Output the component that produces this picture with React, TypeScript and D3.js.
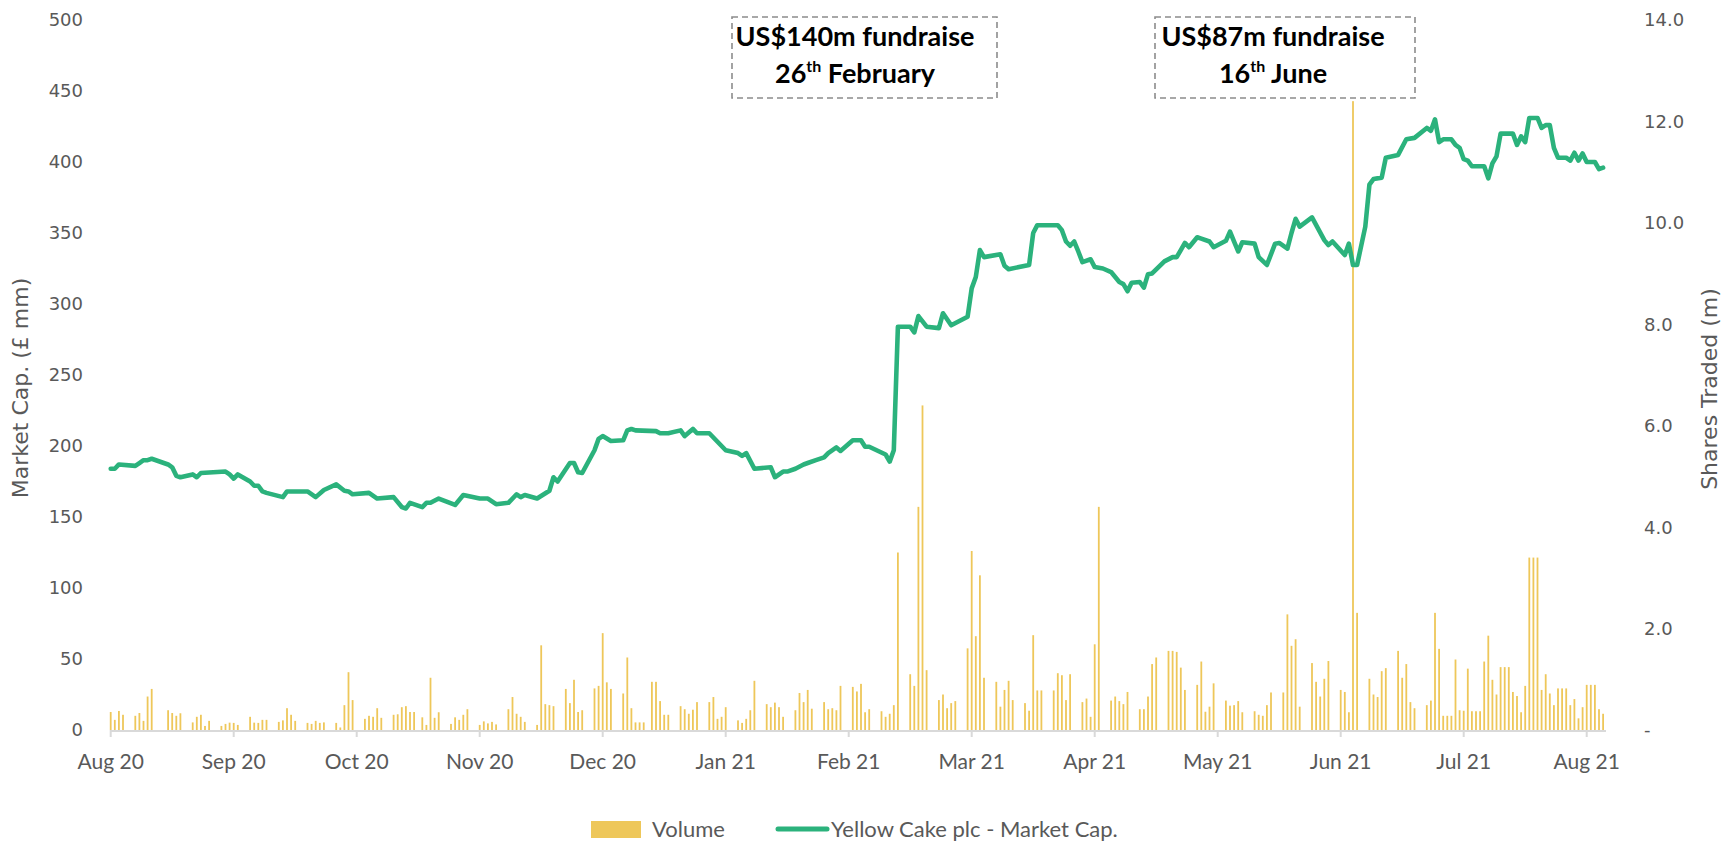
import React from "react";
import * as d3 from "d3";

// Market cap (£ mm) line vertices: day offset from 18 Aug 2020 and value
const capStart = "2020-08-18";
const capDays = [0,1,2,6,7,8,9,10,14,15,16,17,20,21,22,28,29,30,31,34,35,36,37,38,42,43,48,50,52,55,57,58,59,63,65,69,71,72,73,76,77,78,80,84,86,90,92,94,97,99,100,101,104,107,108,109,112,113,114,115,118,119,120,122,125,126,127,128,133,134,136,139,140,142,143,146,148,150,153,154,155,157,161,162,164,165,167,169,170,172,174,175,177,178,181,183,184,185,189,190,191,192,195,196,197,199,202,203,205,209,210,211,212,213,217,218,219,224,225,226,231,232,233,234,235,236,237,239,240,242,244,246,247,248,249,251,252,253,254,257,259,260,261,262,263,265,266,268,269,272,273,274,275,276,279,280,282,284,285,287,288,289,290,293,296,297,298,301,302,303,304,306,307,308,310,311,314,316,318,321,322,323,324,325,326,327,328,329,330,331,332,333,334,335,336,337,338,339,340,341,342,343,344,345,346,347,348,349,350,351,352,353,354,355,356,357,358,359,360,361,362,363,364];
const capValues = [184,184,187,186,188,190,190,191,187,185,179,178,180,178,181,182,180,177,180,175,172,172,168,167,164,168,168,164,169,173,168.5,168,166,167,163,164,157,156,160,157,160,160,163,158.5,165.5,163,163,159,160,166,164,165.5,163,168.5,178,175,188,188,181.5,181,197,205,207,203.5,204,211,212,211,210.5,209,209,211,207,212,209,209,203,197,195,193,195,184,185,178,182,182,184,187,188,190,192,195,199,196.5,204,204,199.5,199.5,194,189,197,284,284,280,291.5,284,283,293.5,285,291,311,319,338,333,335,327,324.5,327.5,350,355.5,355.5,352,344,341,344,337,329.5,331.5,326,325,322.5,315.5,314,309,315,315.5,311.5,321,321.5,330,333,333,338,343,340,347,346,344,340,344.5,351,344,337,343.5,342.5,333,327.5,342.5,343,339,350,360,354.5,361,345,341.5,344,334.5,342.5,327.5,327.5,354.5,384,388,389,403,405,416,417,424,422,430,414,416,416,416,412,410,402,401,397,397,397,397,388.5,399,404,420,420,420,420,412,418,414,431,431,431,424,426,426,410,403,403,403,401,406.5,401,406,400,400,400,395,396];

// Shares traded (m), one row per week, Monday..Sunday, weeks from 17 Aug 2020
const volumeWeekStart = "2020-08-17";
const volumeWeeks: (number | null)[][] = [
  [null, 0.355, 0.2, 0.375, 0.3, null, null],
  [0.28, 0.335, 0.18, 0.66, 0.81, null, null],
  [null, 0.39, 0.335, 0.28, 0.33, null, null],
  [0.15, 0.26, 0.3, 0.08, 0.18, null, null],
  [0.08, 0.12, 0.145, 0.14, 0.1, null, null],
  [0.26, 0.145, 0.14, 0.2, 0.2, null, null],
  [0.16, 0.19, 0.43, 0.3, 0.18, null, null],
  [0.14, 0.12, 0.18, 0.14, 0.15, null, null],
  [0.14, 0.05, 0.49, 1.14, 0.59, null, null],
  [0.22, 0.28, 0.26, 0.43, 0.24, null, null],
  [0.3, 0.31, 0.45, 0.47, 0.355, 0.355, null],
  [0.25, 0.1, 1.03, 0.24, 0.35, null, null],
  [0.12, 0.25, 0.2, 0.3, 0.41, null, null],
  [0.1, 0.17, 0.13, 0.16, 0.11, null, null],
  [0.41, 0.65, 0.32, 0.26, 0.16, null, null],
  [0.1, 1.67, 0.51, 0.49, 0.47, null, null],
  [0.81, 0.53, 0.99, 0.355, 0.39, null, null],
  [0.82, 0.87, 1.91, 0.94, 0.81, null, null],
  [0.72, 1.43, 0.43, 0.15, 0.15, 0.15, null],
  [0.95, 0.95, 0.57, 0.3, 0.3, null, null],
  [0.47, 0.41, 0.32, 0.4, 0.55, null, null],
  [0.55, 0.65, 0.22, 0.26, 0.45, null, null],
  [0.19, 0.14, 0.22, 0.39, 0.97, null, null],
  [0.51, 0.45, 0.54, 0.45, 0.26, null, null],
  [0.39, 0.73, 0.55, 0.79, 0.42, null, null],
  [0.55, 0.41, 0.43, 0.39, 0.87, null, null],
  [0.85, 0.76, 0.91, 0.35, 0.41, null, null],
  [0.37, 0.26, 0.32, 0.49, 3.5, null, null],
  [1.1, 0.87, 4.4, 6.4, 1.18, null, null],
  [0.59, 0.7, 0.43, 0.53, 0.57, null, null],
  [1.61, 3.53, 1.85, 3.05, 1.03, null, null],
  [0.95, 0.46, 0.79, 0.97, 0.59, null, null],
  [0.53, 0.38, 1.87, 0.78, 0.78, null, null],
  [0.78, 1.12, 1.08, 0.59, 1.1, null, null],
  [0.55, 0.62, 0.26, 1.69, 4.4, null, null],
  [0.58, 0.66, 0.57, 0.51, 0.75, null, null],
  [0.41, 0.41, 0.66, 1.3, 1.43, null, null],
  [1.56, 1.56, 1.54, 1.23, 0.79, null, null],
  [0.89, 1.35, 0.36, 0.46, 0.92, null, null],
  [0.58, 0.48, 0.49, 0.57, 0.35, null, null],
  [0.37, 0.3, 0.28, 0.49, 0.74, null, null],
  [0.74, 2.28, 1.66, 1.79, 0.46, null, null],
  [1.32, 0.95, 0.66, 1.01, 1.36, null, null],
  [0.79, 0.75, 0.35, 12.4, 2.31, null, null],
  [1.01, 0.7, 0.65, 1.16, 1.22, null, null],
  [1.56, 1.03, 1.3, 0.55, 0.43, null, null],
  [0.49, 0.58, 2.31, 1.6, 0.28, 0.28, 0.28],
  [1.39, 0.39, 0.38, 1.21, 0.37, 0.37, 0.37],
  [1.35, 1.86, 0.99, 0.7, 1.24, 1.24, 1.24],
  [0.75, 0.67, 0.35, 0.87, 3.4, 3.4, 3.4],
  [0.79, 1.1, 0.72, 0.49, 0.82, 0.82, 0.82],
  [0.49, 0.61, 0.23, 0.45, 0.89, 0.89, 0.89],
  [0.41, 0.32],
];

const xTickDates = ["2020-08-18","2020-09-17","2020-10-17","2020-11-16","2020-12-16","2021-01-15","2021-02-14","2021-03-16","2021-04-15","2021-05-15","2021-06-14","2021-07-14","2021-08-13"];
const xTickLabels = ["Aug 20","Sep 20","Oct 20","Nov 20","Dec 20","Jan 21","Feb 21","Mar 21","Apr 21","May 21","Jun 21","Jul 21","Aug 21"];
const leftTicks = [0, 50, 100, 150, 200, 250, 300, 350, 400, 450, 500];
const rightTicks = [0, 2, 4, 6, 8, 10, 12, 14];
const rightTickLabels = ["-", "2.0", "4.0", "6.0", "8.0", "10.0", "12.0", "14.0"];

const annotations = [
  { line1: "US$140m fundraise", day: "26", sup: "th", month: " February" },
  { line1: "US$87m fundraise", day: "16", sup: "th", month: " June" },
];

const LINE_COLOR = "#2bb27c";
const BAR_COLOR = "#eec75a";
const TEXT_COLOR = "#595959";

export default function App() {
  const W = 1732, H = 842;
  const parse = d3.utcParse("%Y-%m-%d");
  const start = parse(capStart) as Date;
  const x = d3.scaleUtc()
    .domain([start, d3.utcDay.offset(start, 364)])
    .range([110.7, 1603.1]);
  const yL = d3.scaleLinear().domain([0, 500]).range([730, 20]);
  const yR = d3.scaleLinear().domain([0, 14]).range([730, 20]);

  const capPts = capDays.map((d, i) => ({ date: d3.utcDay.offset(start, d), v: capValues[i] }));
  const line = d3.line<{ date: Date; v: number }>()
    .x((d) => x(d.date))
    .y((d) => yL(d.v));

  const weekStart = parse(volumeWeekStart) as Date;
  const bars: { date: Date; v: number }[] = [];
  volumeWeeks.forEach((wk, r) =>
    wk.forEach((v, c) => {
      if (v != null) bars.push({ date: d3.utcDay.offset(weekStart, r * 7 + c), v });
    })
  );

  const boxes = [
    { x0: 732, x1: 997, tx: 855 },
    { x0: 1155, x1: 1415, tx: 1273 },
  ];

  return (
    <svg width={W} height={H} style={{ position: "absolute", left: 0, top: 0, background: "#fff" }}>
      {/* volume bars */}
      <g>
        {bars.map((b, i) => (
          <rect key={i} x={x(b.date) - 0.9} width={1.8} y={yR(b.v)} height={730 - yR(b.v)} fill={BAR_COLOR} />
        ))}
      </g>
      {/* x axis */}
      <line x1={110.7} x2={1606} y1={731} y2={731} stroke="#d9d9d9" strokeWidth={2} />
      {xTickDates.map((d, i) => {
        const px = x(parse(d) as Date);
        return (
          <g key={d}>
            <line x1={px} x2={px} y1={730} y2={737} stroke="#d9d9d9" strokeWidth={2} />
            <text x={px} y={769} textAnchor="middle" fontFamily="Lato" fontSize={21} fill={TEXT_COLOR}>
              {xTickLabels[i]}
            </text>
          </g>
        );
      })}
      {/* left axis labels */}
      {leftTicks.map((t) => (
        <text key={t} x={83} y={yL(t)} dy="0.36em" textAnchor="end" fontFamily="DejaVu Sans" fontSize={18} fill={TEXT_COLOR}>
          {t}
        </text>
      ))}
      {rightTicks.map((t, i) => (
        <text key={t} x={1644} y={yR(t)} dy="0.36em" textAnchor="start" fontFamily="DejaVu Sans" fontSize={18} fill={TEXT_COLOR}>
          {rightTickLabels[i]}
        </text>
      ))}
      <text transform="translate(28,388) rotate(-90)" textAnchor="middle" fontFamily="DejaVu Sans" fontSize={22} fill={TEXT_COLOR}>
        Market Cap. (£ mm)
      </text>
      <text transform="translate(1717,389) rotate(-90)" textAnchor="middle" fontFamily="DejaVu Sans" fontSize={22} fill={TEXT_COLOR}>
        Shares Traded (m)
      </text>
      {/* market cap line */}
      <path d={line(capPts) || ""} fill="none" stroke={LINE_COLOR} strokeWidth={4.6} strokeLinejoin="round" strokeLinecap="round" />
      {/* annotations */}
      {annotations.map((a, i) => {
        const b = boxes[i];
        return (
          <g key={i}>
            <rect x={b.x0} y={17} width={b.x1 - b.x0} height={81} fill="none" stroke="#8c8c8c" strokeWidth={1.6} strokeDasharray="6 4" />
            <text x={b.tx} y={46} textAnchor="middle" fontFamily="Lato" fontWeight="bold" fontSize={27} fill="#000">
              {a.line1}
            </text>
            <text x={b.tx} y={83} textAnchor="middle" fontFamily="Lato" fontWeight="bold" fontSize={27} fill="#000">
              <tspan>{a.day}</tspan>
              <tspan dy={-11} fontSize={16}>{a.sup}</tspan>
              <tspan dy={11}>{a.month}</tspan>
            </text>
          </g>
        );
      })}
      {/* legend */}
      <rect x={591} y={821} width={50} height={17} fill={BAR_COLOR} />
      <text x={652} y={837} fontFamily="Lato" fontSize={22} fill={TEXT_COLOR}>Volume</text>
      <line x1={778} x2={827} y1={829} y2={829} stroke={LINE_COLOR} strokeWidth={5} strokeLinecap="round" />
      <text x={831} y={837} fontFamily="Lato" fontSize={22} fill={TEXT_COLOR}>Yellow Cake plc  - Market Cap.</text>
    </svg>
  );
}
